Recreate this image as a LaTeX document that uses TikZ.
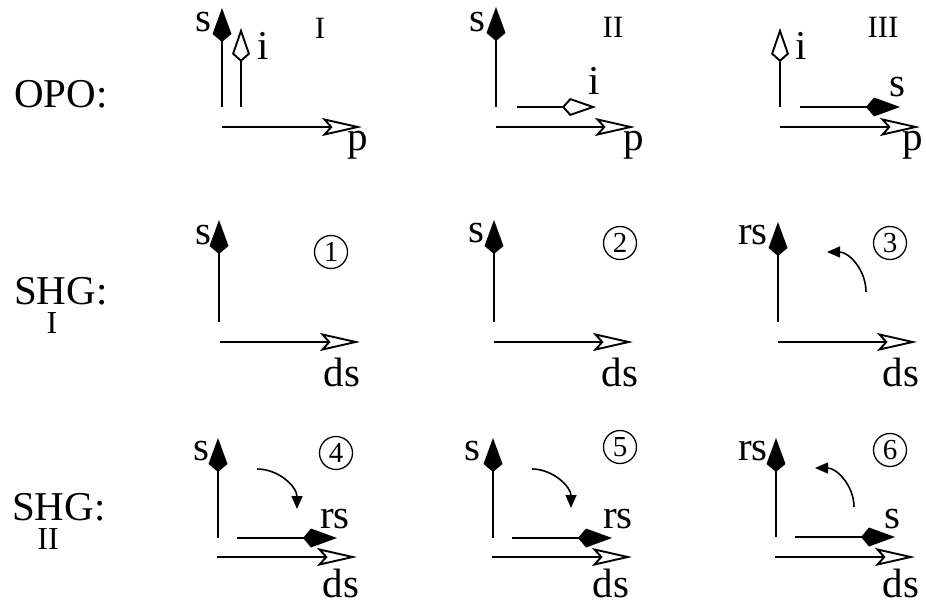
\documentclass[tikz,border=0pt]{standalone}
\usepackage{fontspec}
\setmainfont{Liberation Serif}
\usetikzlibrary{arrows.meta}
\tikzset{
 lbl/.style={font=\fontsize{41}{41}\selectfont, inner sep=0pt, anchor=base},
 numl/.style={font=\fontsize{31}{31}\selectfont, inner sep=0pt, anchor=base},
 subl/.style={font=\fontsize{32}{32}\selectfont, inner sep=0pt, anchor=base},
 circnum/.style={draw, circle, line width=1.3pt, minimum size=33pt, inner sep=0pt, font=\fontsize{29}{29}\selectfont},
 vec/.style={line width=1.9pt},
 sig/.style={vec, -{Kite[length=34pt,width=19pt,inset=8pt]}},
 idl/.style={vec, -{Kite[fill=white,length=34pt,width=18pt,inset=8pt]}},
 pmp/.style={vec, -{Stealth[fill=white,length=40pt,width=18pt,inset=8pt]}},
 rot/.style={line width=1.6pt, -{Triangle[length=13pt,width=11pt]}},
}
\begin{document}
\begin{tikzpicture}[x=1pt,y=-1pt]
\useasboundingbox (0,0) rectangle (926,601);
% ---------- row labels
\node[lbl, anchor=base west] (opo) at (14,108) {OPO:};
\node[lbl, anchor=base west] (shg1) at (14,305) {SHG:};
\node[subl] (shg1s) at (52,334) {I};
\node[lbl, anchor=base west] (shg2) at (12,520) {SHG:};
\node[subl] (shg2s) at (48,549) {II};
% ---------- row 1: OPO
% panel I
\coordinate (a1) at (222,107); \coordinate (a1t) at (222,8);
\coordinate (b1) at (241,107); \coordinate (b1t) at (241,28);
\coordinate (c1) at (222,127); \coordinate (c1t) at (362,127);
\draw[sig] (a1) -- (a1t);
\draw[idl] (b1) -- (b1t);
\draw[pmp] (c1) -- (c1t);
\node[lbl] (ls1) at (203,32) {s};
\node[lbl] (li1) at (263,60) {i};
\node[lbl] (lp1) at (358,151) {p};
\node[numl] (rI) at (320,39) {I};
% panel II
\coordinate (a2) at (496,107); \coordinate (a2t) at (496,7);
\coordinate (b2) at (517,107); \coordinate (b2t) at (596,107);
\coordinate (c2) at (496,127); \coordinate (c2t) at (635,127);
\draw[sig] (a2) -- (a2t);
\draw[idl] (b2) -- (b2t);
\draw[pmp] (c2) -- (c2t);
\node[lbl] (ls2) at (477,32) {s};
\node[lbl] (li2) at (594,95) {i};
\node[lbl] (lp2) at (634,151) {p};
\node[numl] (rII) at (613,38) {II};
% panel III
\coordinate (a3) at (780,107); \coordinate (a3t) at (780,28);
\coordinate (b3) at (800,107); \coordinate (b3t) at (900,107);
\coordinate (c3) at (780,127); \coordinate (c3t) at (920,127);
\draw[idl] (a3) -- (a3t);
\draw[sig] (b3) -- (b3t);
\draw[pmp] (c3) -- (c3t);
\node[lbl] (li3) at (801,60) {i};
\node[lbl] (ls3) at (897,97) {s};
\node[lbl] (lp3) at (913,151) {p};
\node[numl] (rIII) at (883,38) {III};
% ---------- row 2: SHG I
% panel 1
\coordinate (d1) at (219,322); \coordinate (d1t) at (219,220);
\coordinate (e1) at (220,342); \coordinate (e1t) at (360,342);
\draw[sig] (d1) -- (d1t);
\draw[pmp] (e1) -- (e1t);
\node[lbl] (ls4) at (203,245) {s};
\node[lbl] (lds1) at (342,386) {ds};
\node[circnum] (n1) at (331,252) {1};
% panel 2
\coordinate (d2) at (494,322); \coordinate (d2t) at (494,220);
\coordinate (e2) at (494,342); \coordinate (e2t) at (633,342);
\draw[sig] (d2) -- (d2t);
\draw[pmp] (e2) -- (e2t);
\node[lbl] (ls5) at (476,243) {s};
\node[lbl] (lds2) at (620,386) {ds};
\node[circnum] (n2) at (620,243) {2};
% panel 3
\coordinate (d3) at (778,322); \coordinate (d3t) at (778,222);
\coordinate (e3) at (778,342); \coordinate (e3t) at (917,342);
\coordinate (r3a) at (866,292); \coordinate (r3b) at (827,252);
\draw[sig] (d3) -- (d3t);
\draw[pmp] (e3) -- (e3t);
\draw[rot] (r3a) .. controls (866,270) and (849,252) .. (r3b);
\node[lbl, anchor=base east] (lrs1) at (768,245) {rs};
\node[lbl] (lds3) at (901,386) {ds};
\node[circnum] (n3) at (890,243) {3};
% ---------- row 3: SHG II
% panel 4
\coordinate (f1) at (218,538); \coordinate (f1t) at (218,438);
\coordinate (g1) at (237,538); \coordinate (g1t) at (337,538);
\coordinate (h1) at (217,557); \coordinate (h1t) at (357,557);
\coordinate (r4a) at (257,469); \coordinate (r4b) at (297,509);
\draw[sig] (f1) -- (f1t);
\draw[sig] (g1) -- (g1t);
\draw[pmp] (h1) -- (h1t);
\draw[rot] (r4a) .. controls (279,469) and (297,487) .. (r4b);
\node[lbl] (ls6) at (201,460) {s};
\node[lbl] (lrs2) at (335,528) {rs};
\node[lbl] (lds4) at (341,597) {ds};
\node[circnum] (n4) at (336,453) {4};
% panel 5
\coordinate (f2) at (493,538); \coordinate (f2t) at (493,438);
\coordinate (g2) at (512,538); \coordinate (g2t) at (612,538);
\coordinate (h2) at (492,557); \coordinate (h2t) at (632,557);
\coordinate (r5a) at (532,469); \coordinate (r5b) at (571,508);
\draw[sig] (f2) -- (f2t);
\draw[sig] (g2) -- (g2t);
\draw[pmp] (h2) -- (h2t);
\draw[rot] (r5a) .. controls (553,469) and (571,487) .. (r5b);
\node[lbl] (ls7) at (472,460) {s};
\node[lbl] (lrs3) at (618,528) {rs};
\node[lbl] (lds5) at (611,597) {ds};
\node[circnum] (n5) at (620,447) {5};
% panel 6
\coordinate (f3) at (776,537); \coordinate (f3t) at (776,438);
\coordinate (g3) at (795,537); \coordinate (g3t) at (895,537);
\coordinate (h3) at (775,557); \coordinate (h3t) at (915,557);
\coordinate (r6a) at (854,507); \coordinate (r6b) at (815,468);
\draw[sig] (f3) -- (f3t);
\draw[sig] (g3) -- (g3t);
\draw[pmp] (h3) -- (h3t);
\draw[rot] (r6a) .. controls (854,486) and (837,468) .. (r6b);
\node[lbl, anchor=base east] (lrs4) at (768,460) {rs};
\node[lbl] (ls8) at (892,528) {s};
\node[lbl] (lds6) at (901,597) {ds};
\node[circnum] (n6) at (890,450) {6};
\end{tikzpicture}
\end{document}
